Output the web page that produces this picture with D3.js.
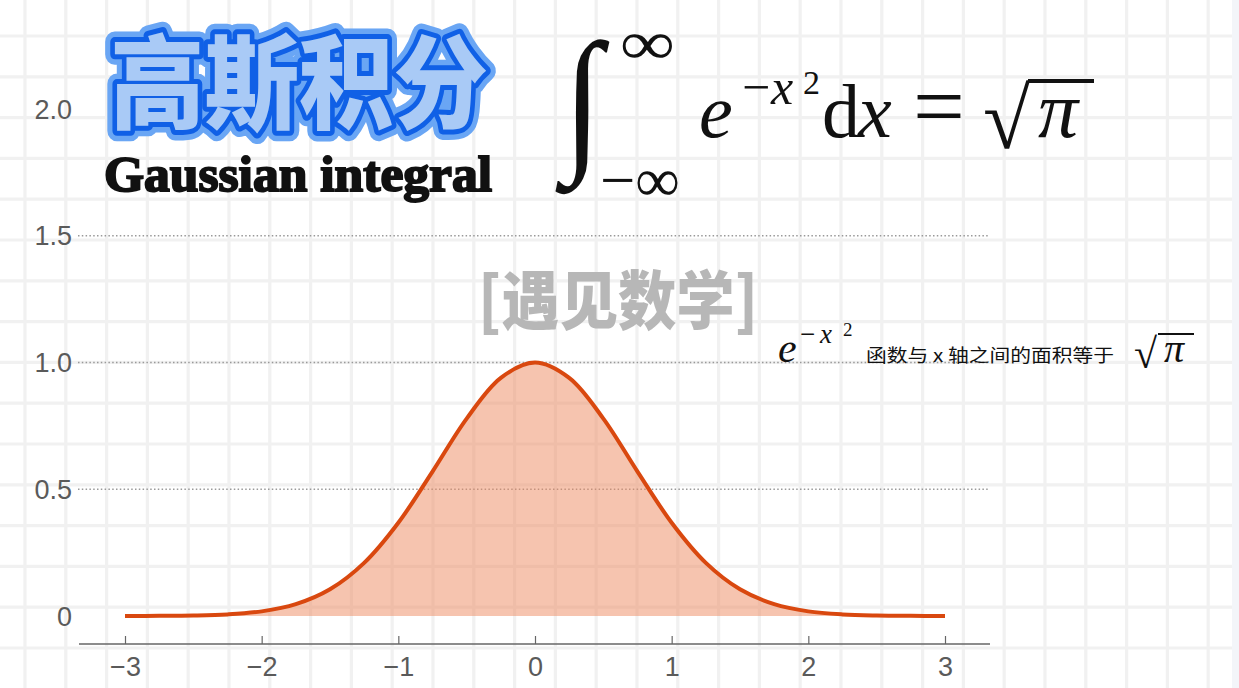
<!DOCTYPE html>
<html><head><meta charset="utf-8">
<script src="https://cdn.jsdelivr.net/npm/d3@7/dist/d3.min.js"></script>
<style>body{margin:0;background:#fff;overflow:hidden} svg{display:block}</style>
</head><body>
<svg id="c" width="1239" height="688"></svg>
<script>
// ---- data ----
const xTicks = [-3, -2, -1, 0, 1, 2, 3];
const yTicks = [0, 0.5, 1.0, 1.5, 2.0];
const yGrid = [0.5, 1.0, 1.5];
const curveX = [-3, -2.75, -2.5, -2.25, -2, -1.75, -1.5, -1.25, -1, -0.75, -0.5, -0.25, 0,
                0.25, 0.5, 0.75, 1, 1.25, 1.5, 1.75, 2, 2.25, 2.5, 2.75, 3];
const curveY = [0.0001, 0.0005, 0.0019, 0.0063, 0.0183, 0.0468, 0.1054, 0.2096, 0.3679, 0.5698, 0.7788, 0.9394, 1.0,
                0.9394, 0.7788, 0.5698, 0.3679, 0.2096, 0.1054, 0.0468, 0.0183, 0.0063, 0.0019, 0.0005, 0.0001];
const titleCN = "高斯积分";
const titleEN = "Gaussian integral";
const watermark = "[遇见数学]";
const noteCN = "函数与 x 轴之间的面积等于";

const svg = d3.select("#c");
const W = 1239, H = 688;

// ---- background grid ----
const bg = svg.append("g");
bg.append("rect").attr("width", W).attr("height", H).attr("fill", "#ffffff");
bg.append("rect").attr("x", 1232).attr("width", 7).attr("height", H).attr("fill", "#f3f5f9");
const gs = 40.8;
d3.range(25, W, gs).forEach(v => bg.append("line").attr("x1", v).attr("x2", v).attr("y1", 0).attr("y2", H)
  .attr("stroke", "#f1f1f1").attr("stroke-width", 3.2));
d3.range(36 - gs, H, gs).forEach(v => bg.append("line").attr("y1", v).attr("y2", v).attr("x1", 0).attr("x2", 1232)
  .attr("stroke", "#f1f1f1").attr("stroke-width", 3.2));

// ---- scales ----
const x = d3.scaleLinear().domain([-3, 3]).range([125, 945]);
const y = d3.scaleLinear().domain([0, 2]).range([616, 109]);

// dotted grid
svg.append("g").selectAll("line").data(yGrid).join("line")
  .attr("x1", 78).attr("x2", 990).attr("y1", d => y(d)).attr("y2", d => y(d))
  .attr("stroke", "#999").attr("stroke-width", 1.6).attr("stroke-dasharray", "1.5,2.3");

// y labels
svg.append("g").selectAll("text").data(yTicks).join("text")
  .attr("x", 72).attr("y", d => y(d)).attr("dy", "0.36em").attr("text-anchor", "end")
  .attr("font-family", "Liberation Sans, Arial, sans-serif").attr("font-size", 27).attr("fill", "#5a5a5a")
  .text(d => d === 0 ? "0" : d.toFixed(1));

// x axis
const xa = svg.append("g").attr("transform", "translate(0,644)")
  .call(d3.axisBottom(x).tickValues(xTicks).tickSizeInner(-8).tickSizeOuter(0).tickPadding(13)
    .tickFormat(d => d < 0 ? "\u2212" + Math.abs(d) : String(d)));
xa.select(".domain").remove();
xa.selectAll(".tick line").attr("stroke", "#666").attr("stroke-width", 1.2);
xa.selectAll(".tick text").attr("font-family", "Liberation Sans, Arial, sans-serif").attr("font-size", 27).attr("fill", "#5a5a5a");
xa.append("line").attr("x1", 79).attr("x2", 990).attr("y1", 0).attr("y2", 0).attr("stroke", "#666").attr("stroke-width", 1.3);

// area + curve
const pts = curveX.map((v, i) => [v, curveY[i]]);
svg.append("path").datum(pts)
  .attr("d", d3.area().x(d => x(d[0])).y0(y(0)).y1(d => y(d[1])).curve(d3.curveCatmullRom.alpha(0.5)))
  .attr("fill", "#ee8a5f").attr("fill-opacity", 0.5);
svg.append("path").datum(pts)
  .attr("d", d3.line().x(d => x(d[0])).y(d => y(d[1])).curve(d3.curveCatmullRom.alpha(0.5)))
  .attr("fill", "none").attr("stroke", "#d9480f").attr("stroke-width", 4).attr("stroke-linecap", "butt");

// ---- title ----
const tg = svg.append("g");
const cnFont = "Noto Sans CJK SC, sans-serif";
[["#6aa6f4", 21], ["#1060e6", 10]].forEach(([c, w]) => {
  tg.append("text").attr("x", 110).attr("y", 121).attr("font-family", cnFont).attr("font-weight", 900)
    .attr("font-size", 102).attr("textLength", 378).attr("lengthAdjust", "spacingAndGlyphs")
    .attr("fill", c).attr("stroke", c).attr("stroke-width", w).attr("stroke-linejoin", "round").text(titleCN);
});
tg.append("text").attr("x", 110).attr("y", 121).attr("font-family", cnFont).attr("font-weight", 900)
  .attr("font-size", 102).attr("textLength", 378).attr("lengthAdjust", "spacingAndGlyphs")
  .attr("fill", "#a9caf6").text(titleCN);

svg.append("text").attr("x", 104).attr("y", 191).attr("font-family", "Liberation Serif, serif").attr("font-weight", 700)
  .attr("font-size", 50).attr("textLength", 388).attr("lengthAdjust", "spacingAndGlyphs")
  .attr("fill", "#111").attr("stroke", "#111").attr("stroke-width", 2).text(titleEN);

// ---- watermark ----
svg.append("text").attr("transform", "translate(478,324) scale(1,1.07)").attr("font-family", cnFont).attr("font-weight", 900)
  .attr("font-size", 60).attr("textLength", 280).attr("lengthAdjust", "spacingAndGlyphs")
  .attr("fill", "#b3b3b3").attr("fill-opacity", 0.95).text(watermark);

// ---- main formula ----
const mf = "Liberation Serif, DejaVu Serif, serif";
const F = svg.append("g").attr("fill", "#111").attr("font-family", mf);
F.append("text").attr("transform", "translate(563,152) scale(0.95,1.05)").attr("font-size", 150).attr("font-style", "italic").text("\u222B");
F.append("text").attr("x", 620).attr("y", 64).attr("font-size", 62).attr("textLength", 55).attr("lengthAdjust", "spacingAndGlyphs").text("\u221E");
F.append("text").attr("x", 600).attr("y", 201).attr("font-size", 62).attr("textLength", 80).attr("lengthAdjust", "spacingAndGlyphs").text("\u2212\u221E");
const fm = F.append("text").attr("y", 137).attr("font-size", 76);
fm.append("tspan").attr("x", 699).attr("y", 137).attr("font-style", "italic").text("e");
fm.append("tspan").attr("x", 742).attr("y", 104).attr("font-size", 50).text("\u2212");
fm.append("tspan").attr("x", 771).attr("y", 104).attr("font-size", 50).attr("font-style", "italic").text("x");
fm.append("tspan").attr("x", 803).attr("y", 94).attr("font-size", 34).text("2");
fm.append("tspan").attr("x", 822).attr("y", 137).text("d");
fm.append("tspan").attr("x", 858).attr("y", 137).attr("font-style", "italic").text("x");
fm.append("tspan").attr("x", 913).attr("y", 137).attr("font-size", 92).text("=");
fm.append("tspan").attr("x", 983).attr("y", 148).attr("font-size", 86).text("\u221A");
fm.append("tspan").attr("x", 1038).attr("y", 137).attr("font-size", 80).attr("font-style", "italic").text("\u03C0");
F.append("line").attr("x1", 1028).attr("x2", 1094).attr("y1", 81).attr("y2", 81).attr("stroke", "#111").attr("stroke-width", 4);

// ---- note ----
const N = svg.append("g").attr("fill", "#111").attr("font-family", mf);
const nt = N.append("text").attr("font-size", 42);
nt.append("tspan").attr("x", 778).attr("y", 362).attr("font-style", "italic").text("e");
nt.append("tspan").attr("x", 800).attr("y", 343).attr("font-size", 27).text("\u2212");
nt.append("tspan").attr("x", 820).attr("y", 343).attr("font-size", 27).attr("font-style", "italic").text("x");
nt.append("tspan").attr("x", 843).attr("y", 336).attr("font-size", 19).text("2");
N.append("text").attr("x", 866).attr("y", 362).attr("font-family", cnFont).attr("font-size", 18)
  .attr("textLength", 248).attr("lengthAdjust", "spacingAndGlyphs").text(noteCN);
const ns = N.append("text").attr("font-size", 42);
ns.append("tspan").attr("x", 1134).attr("y", 368).text("\u221A");
ns.append("tspan").attr("x", 1164).attr("y", 362).attr("font-size", 40).attr("font-style", "italic").text("\u03C0");
N.append("line").attr("x1", 1158).attr("x2", 1194).attr("y1", 334).attr("y2", 334).attr("stroke", "#111").attr("stroke-width", 2);
</script>
</body></html>
